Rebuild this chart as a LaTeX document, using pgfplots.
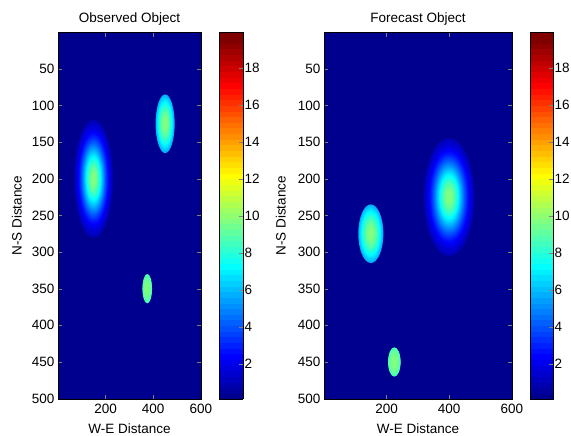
\documentclass[border=0pt]{standalone}
\usepackage{pgfplots}
\pgfplotsset{compat=1.18}
\usepackage{pgfplotstable}
\usepackage{fontspec}
\setmainfont{Liberation Sans}
\definecolor{bgblue}{rgb}{0,0,0.5625}
\newcommand\fs{\fontsize{13.5bp}{16bp}\selectfont}
\pgfkeys{/pgf/number format/assume math mode=true}

\pgfdeclareplotmark{blobL}{%
  \pgfpathellipse{\pgfpointorigin}{\pgfpoint{0.23833*\rr bp}{0pt}}{\pgfpoint{0pt}{0.733*\rr bp}}\pgfusepathqfill}
\pgfdeclareplotmark{blobR}{%
  \pgfpathellipse{\pgfpointorigin}{\pgfpoint{0.31333*\rr bp}{0pt}}{\pgfpoint{0pt}{0.733*\rr bp}}\pgfusepathqfill}

\pgfplotstableread{
x y r v
150 200 80 1.183
150 200 74.8 1.492
150 200 70.8 1.801
150 200 67.3 2.111
150 200 64.2 2.420
150 200 61.4 2.730
150 200 58.8 3.039
150 200 56.3 3.348
150 200 54.0 3.658
150 200 51.8 3.967
150 200 49.6 4.277
150 200 47.6 4.586
150 200 45.5 4.895
150 200 43.6 5.205
150 200 41.6 5.514
150 200 39.7 5.823
150 200 37.8 6.133
150 200 35.9 6.442
150 200 34.0 6.752
150 200 32.1 7.061
150 200 30.1 7.370
150 200 28.1 7.680
150 200 26.0 7.989
150 200 23.9 8.299
150 200 21.6 8.608
150 200 19.2 8.917
150 200 16.5 9.227
150 200 13.3 9.536
150 200 9.3 9.845
450 125 40 5.823
450 125 37.8 6.133
450 125 35.9 6.442
450 125 34.0 6.752
450 125 32.1 7.061
450 125 30.1 7.370
450 125 28.1 7.680
450 125 26.0 7.989
450 125 23.9 8.299
450 125 21.6 8.608
450 125 19.2 8.917
450 125 16.5 9.227
450 125 13.3 9.536
450 125 9.3 9.845
375 350 20 8.608
375 350 19.2 8.917
375 350 16.5 9.227
375 350 13.3 9.536
375 350 9.3 9.845
}\obsdata

\pgfplotstableread{
x y r v
400 225 80 1.183
400 225 74.8 1.492
400 225 70.8 1.801
400 225 67.3 2.111
400 225 64.2 2.420
400 225 61.4 2.730
400 225 58.8 3.039
400 225 56.3 3.348
400 225 54.0 3.658
400 225 51.8 3.967
400 225 49.6 4.277
400 225 47.6 4.586
400 225 45.5 4.895
400 225 43.6 5.205
400 225 41.6 5.514
400 225 39.7 5.823
400 225 37.8 6.133
400 225 35.9 6.442
400 225 34.0 6.752
400 225 32.1 7.061
400 225 30.1 7.370
400 225 28.1 7.680
400 225 26.0 7.989
400 225 23.9 8.299
400 225 21.6 8.608
400 225 19.2 8.917
400 225 16.5 9.227
400 225 13.3 9.536
400 225 9.3 9.845
150 275 40 5.823
150 275 37.8 6.133
150 275 35.9 6.442
150 275 34.0 6.752
150 275 32.1 7.061
150 275 30.1 7.370
150 275 28.1 7.680
150 275 26.0 7.989
150 275 23.9 8.299
150 275 21.6 8.608
150 275 19.2 8.917
150 275 16.5 9.227
150 275 13.3 9.536
150 275 9.3 9.845
225 450 20 8.608
225 450 19.2 8.917
225 450 16.5 9.227
225 450 13.3 9.536
225 450 9.3 9.845
}\fcstdata

\pgfplotsset{
  colormap={matjet}{
    rgb=(0,0,0.5625) rgb=(0,0,0.625) rgb=(0,0,0.6875) rgb=(0,0,0.75)
    rgb=(0,0,0.8125) rgb=(0,0,0.875) rgb=(0,0,0.9375) rgb=(0,0,1)
    rgb=(0,0.0625,1) rgb=(0,0.125,1) rgb=(0,0.1875,1) rgb=(0,0.25,1)
    rgb=(0,0.3125,1) rgb=(0,0.375,1) rgb=(0,0.4375,1) rgb=(0,0.5,1)
    rgb=(0,0.5625,1) rgb=(0,0.625,1) rgb=(0,0.6875,1) rgb=(0,0.75,1)
    rgb=(0,0.8125,1) rgb=(0,0.875,1) rgb=(0,0.9375,1) rgb=(0,1,1)
    rgb=(0.0625,1,0.9375) rgb=(0.125,1,0.875) rgb=(0.1875,1,0.8125) rgb=(0.25,1,0.75)
    rgb=(0.3125,1,0.6875) rgb=(0.375,1,0.625) rgb=(0.4375,1,0.5625) rgb=(0.5,1,0.5)
    rgb=(0.5625,1,0.4375) rgb=(0.625,1,0.375) rgb=(0.6875,1,0.3125) rgb=(0.75,1,0.25)
    rgb=(0.8125,1,0.1875) rgb=(0.875,1,0.125) rgb=(0.9375,1,0.0625) rgb=(1,1,0)
    rgb=(1,0.9375,0) rgb=(1,0.875,0) rgb=(1,0.8125,0) rgb=(1,0.75,0)
    rgb=(1,0.6875,0) rgb=(1,0.625,0) rgb=(1,0.5625,0) rgb=(1,0.5,0)
    rgb=(1,0.4375,0) rgb=(1,0.375,0) rgb=(1,0.3125,0) rgb=(1,0.25,0)
    rgb=(1,0.1875,0) rgb=(1,0.125,0) rgb=(1,0.0625,0) rgb=(1,0,0)
    rgb=(0.9375,0,0) rgb=(0.875,0,0) rgb=(0.8125,0,0) rgb=(0.75,0,0)
    rgb=(0.6875,0,0) rgb=(0.625,0,0) rgb=(0.5625,0,0) rgb=(0.5,0,0)
    rgb=(0.5,0,0)
  },
  every axis/.append style={font=\fs},
  every axis title/.style={at={(0.5,1)}, anchor=base, yshift=10bp},
  myaxis/.style={
    scale only axis, height=366.5bp,
    anchor=south west,
    xmin=0.5, xmax=600.5, ymin=0.5, ymax=500.5, y dir=reverse,
    xtick={200,400,600}, ytick={50,100,...,500},
    tick align=inside, major tick length=4bp,
    axis line style={line width=0.6bp},
    xticklabel style={yshift=-2bp},
    axis background/.style={fill=bgblue},
    colormap name=matjet, colormap access=piecewise constant,
    point meta min=0.1, point meta max=19.9,
    xlabel style={at={(axis description cs:0.5,0)}, anchor=base, yshift=-34bp},
    xlabel={W-E Distance}, ylabel={N-S Distance},
    colorbar,
    colorbar shift/.style={xshift=18bp},
  },
  mycb/.style={
    at={(parent axis.north east)}, anchor=north west,
    scale only axis, width=#1,
    ytick={2,4,...,18}, ytick pos=right, yticklabel pos=right,
    tick align=inside, major tick length=4bp,
    axis line style={line width=0.6bp},
    yticklabel style={inner xsep=1.5bp},
  },
}

\begin{document}
\begin{tikzpicture}
\useasboundingbox (0,0) rectangle (571bp,436bp);
\begin{axis}[myaxis, at={(58bp,37bp)}, width=143bp,
  title={Observed Object},
  ylabel style={at={(axis description cs:-0.254,0.5)}, anchor=base},
  colorbar style={mycb=24bp}]
\addplot[scatter, only marks, mark=blobL, point meta=\thisrow{v},
  visualization depends on={\thisrow{r}\as\rr},
  scatter/use mapped color={draw=none, fill=mapped color}]
  table[x=x, y=y] {\obsdata};
\end{axis}
\begin{axis}[myaxis, at={(324bp,37bp)}, width=188bp,
  title={Forecast Object},
  ylabel style={at={(axis description cs:-0.2037,0.5)}, anchor=base},
  colorbar style={mycb=23bp}]
\addplot[scatter, only marks, mark=blobR, point meta=\thisrow{v},
  visualization depends on={\thisrow{r}\as\rr},
  scatter/use mapped color={draw=none, fill=mapped color}]
  table[x=x, y=y] {\fcstdata};
\end{axis}
\end{tikzpicture}
\end{document}
